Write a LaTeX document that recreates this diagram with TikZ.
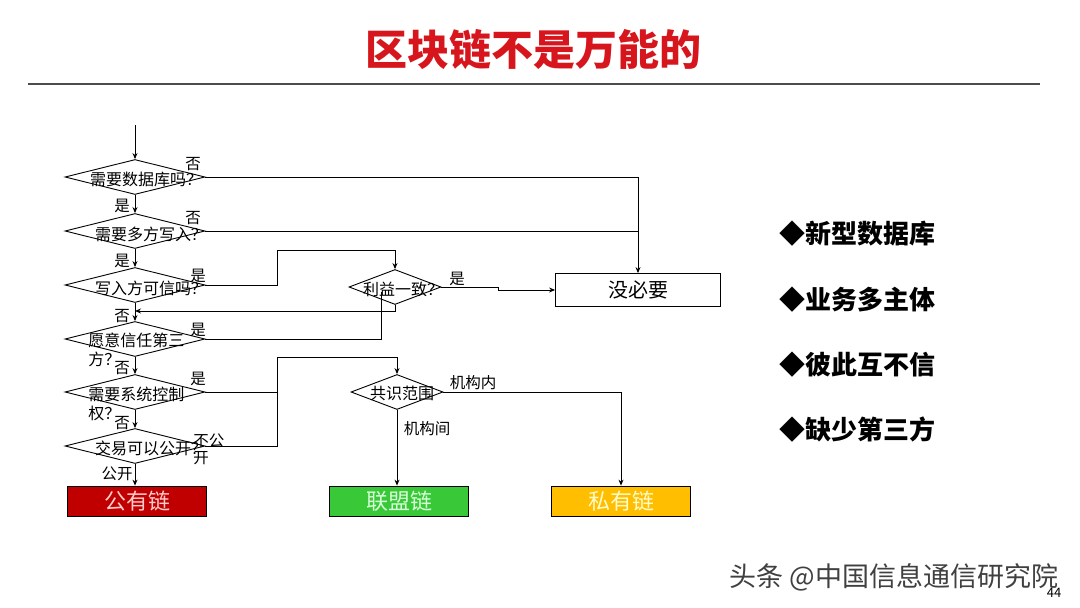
\documentclass[tikz,border=0pt]{standalone}
\usepackage{fontspec}
\setmainfont{Noto Sans CJK SC}
\usetikzlibrary{arrows.meta,shapes.geometric,calc}
\definecolor{titlered}{RGB}{214,22,28}
\definecolor{pubred}{RGB}{192,0,0}
\definecolor{allgreen}{RGB}{56,200,56}
\definecolor{privorange}{RGB}{255,190,0}

\begin{document}
\begin{tikzpicture}[x=1pt, y=-1pt, >={Stealth[length=6pt,width=5pt]}, line width=0.9pt,
    decision/.style={draw, shape=diamond, minimum width=140pt, minimum height=35pt, inner sep=0pt},
    dtext/.style={font=\fontsize{16}{19}\selectfont, inner sep=0pt},
    branch/.style={font=\fontsize{15.5}{17}\selectfont, inner sep=0pt},
    chainbox/.style={draw, line width=0.8pt, minimum width=139pt, minimum height=30pt, font=\fontsize{22}{24}\selectfont}]
    \useasboundingbox (0,0) rectangle (1080,608);

    % Title
    \node[titlered, font=\fontsize{42}{46}\bfseries] (title) at (533,50) {区块链不是万能的};
    \draw[line width=2pt, black!70] (28,84) -- (1040,84);

    % Decisions on the left
    \coordinate (start) at (135,125);
    \node[decision] (d1) at (135,177) {};
    \node[dtext] (t1) at (146,179) {需要数据库吗？};
    \node[decision] (d2) at (135,231) {};
    \node[dtext] (t2) at (151,234) {需要多方写入？};
    \node[decision] (d3) at (135,285) {};
    \node[dtext] (t3) at (151,288) {写入方可信吗？};
    \node[decision] (d4) at (135,339) {};
    \node[dtext, align=left, anchor=north west] (t4) at (88,332) {愿意信任第三\\方？};
    \node[decision] (d5) at (135,392) {};
    \node[dtext, align=left, anchor=north west] (t5) at (88,387) {需要系统控制\\权？};
    \node[decision] (d6) at (135,446) {};
    \node[dtext] (t6) at (151,448) {交易可以公开？};

    % Middle decisions
    \node[decision, minimum width=92pt] (ly) at (395,287) {};
    \node[dtext] (tly) at (403,289) {利益一致？};
    \node[decision, minimum width=92pt] (gs) at (397,392) {};
    \node[dtext] (tgs) at (402,393) {共识范围};

    % Results
    \node[draw, line width=0.8pt, minimum width=165pt, minimum height=33pt, font=\fontsize{20}{22}\selectfont] (none) at (638,290) {没必要};
    \node[chainbox, fill=pubred, text=red!20] (public) at (137,501) {公有链};
    \node[chainbox, fill=allgreen, text=green!15] (alliance) at (399,501) {联盟链};
    \node[chainbox, fill=privorange, text=yellow!20] (private) at (621,501) {私有链};

    % Connectors
    \draw[->] (start) -- (d1.north);
    \draw[->] (d1.east) -- (d1.east -| none.north) -- (none.north);
    \draw (d2.east) -- (d2.east -| none.north);
    \draw[->] (d1.south) -- (d2.north);
    \draw[->] (d2.south) -- (d3.north);
    \coordinate (bendA) at (277,250);
    \draw[->] (d3.east) -| (bendA) -| (ly.north);
    \draw[->] (d3.south) -- (d4.north);
    \coordinate (join34) at (135,311);
    \draw[->] (ly.south) |- (join34);
    \coordinate (lyin) at (381,292);
    \draw (d4.east) -| (lyin);
    \coordinate (jog) at (498,287);
    \draw[->] (ly.east) -- (jog) |- (none.west);
    \draw[->] (d4.south) -- (d5.north);
    \coordinate (bendB) at (277,357);
    \draw[->] (d5.east) -| (bendB) -| (gs.north);
    \draw[->] (d5.south) -- (d6.north);
    \coordinate (bendC) at (277,392);
    \draw (d6.east) -| (bendC);
    \draw[->] (d6.south) -- (d6.south |- public.north);
    \draw[->] (gs.south) -- (gs.south |- alliance.north);
    \draw[->] (gs.east) -| (private.north);

    % Branch labels
    \node[branch] (l1) at (193,164) {否};
    \node[branch] (l2) at (122,206) {是};
    \node[branch] (l3) at (193,218) {否};
    \node[branch] (l4) at (122,261) {是};
    \node[branch] (l5) at (198,276) {是};
    \node[branch] (l6) at (122,316) {否};
    \node[branch] (l7) at (198,330) {是};
    \node[branch] (l8) at (122,368) {否};
    \node[branch] (l9) at (198,379) {是};
    \node[branch] (l10) at (122,423) {否};
    \node[branch, align=left, anchor=west] (l11) at (193,449) {不公\\开};
    \node[branch] (l12) at (117,474) {公开};
    \node[branch] (l13) at (457,279) {是};
    \node[branch] (l14) at (473,383) {机构内};
    \node[branch] (l15) at (427,429) {机构间};

    % Key points on the right
    \foreach \txt [count=\i] in {新型数据库, 业务多主体, 彼此互不信, 缺少第三方} {
        \node[anchor=west, font=\fontsize{26}{28}\bfseries] (pt\i) at (776,234+65.3*\i-65.3) {◆\txt};
    }

    % Footer
    \node[anchor=west, black!75, font=\fontsize{27}{29}\selectfont] (src) at (726,577) {头条 @中国信息通信研究院};
    \node[font=\fontsize{13}{14}\selectfont] (page) at (1054,593) {44};
\end{tikzpicture}
\end{document}
